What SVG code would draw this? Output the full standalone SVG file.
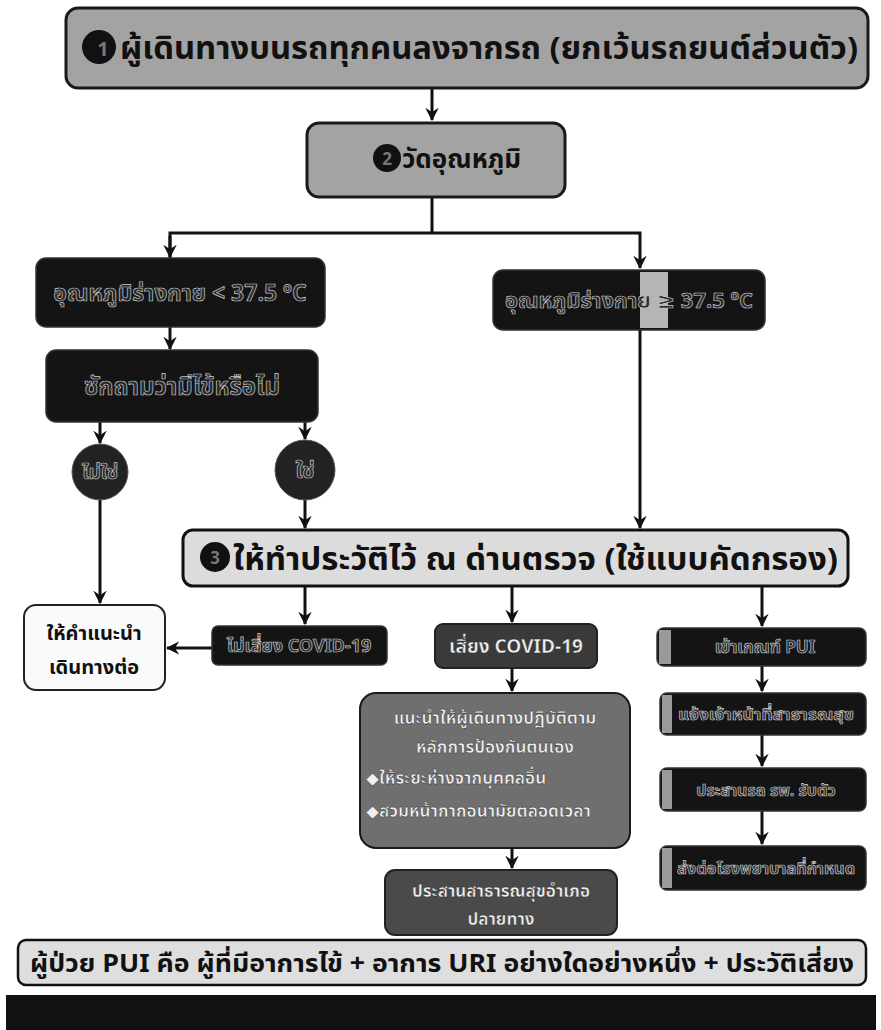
<svg xmlns="http://www.w3.org/2000/svg" width="881" height="1030" viewBox="0 0 881 1030">
<defs>
<style>
.t{font-family:"Noto Sans Thai","Noto Sans","DejaVu Sans",sans-serif;font-weight:bold;}
.gray{fill:#a3a3a3;stroke:#1a1a1a;stroke-width:3;}
.light{fill:#dcdcdc;stroke:#111;stroke-width:3;}
.dark{fill:#141414;stroke:#333;stroke-width:1.5;}
.mid{fill:#6f6f6f;stroke:#1a1a1a;stroke-width:2;}
.wt{fill:#2a2a2a;stroke:#c8c8c8;stroke-width:0.7;}
.bt{fill:#111;}
.lt{fill:#f0f0f0;stroke:#222;stroke-width:0.4;}
.c{stroke:#111;stroke-width:3;fill:none;}
</style>
<marker id="ah" viewBox="0 0 12 12" refX="11" refY="6" markerWidth="4.5" markerHeight="4.5" orient="auto" markerUnits="strokeWidth">
<path d="M0,0 L12,6 L0,12 L4,6 z" fill="#111"/>
</marker>
</defs>
<rect width="881" height="1030" fill="#ffffff"/>

<g id="connectors" class="c">
<line x1="432" y1="88" x2="432" y2="120" marker-end="url(#ah)"/>
<line x1="432" y1="197" x2="432" y2="233"/>
<polyline points="170,258 170,233 640,233 640,268" marker-end="url(#ah)"/>
<line x1="170" y1="236" x2="170" y2="257" marker-end="url(#ah)"/>
<line x1="170" y1="327" x2="170" y2="349" marker-end="url(#ah)"/>
<line x1="100" y1="422" x2="100" y2="443" marker-end="url(#ah)"/>
<line x1="305" y1="422" x2="305" y2="439" marker-end="url(#ah)"/>
<line x1="100" y1="500" x2="100" y2="603" marker-end="url(#ah)"/>
<line x1="305" y1="500" x2="305" y2="528" marker-end="url(#ah)"/>
<line x1="640" y1="330" x2="640" y2="528" marker-end="url(#ah)"/>
<line x1="305" y1="586" x2="305" y2="624" marker-end="url(#ah)"/>
<line x1="512" y1="586" x2="512" y2="622" marker-end="url(#ah)"/>
<line x1="762" y1="586" x2="762" y2="626" marker-end="url(#ah)"/>
<line x1="212" y1="648" x2="167" y2="648" marker-end="url(#ah)"/>
<line x1="512" y1="668" x2="512" y2="691" marker-end="url(#ah)"/>
<line x1="762" y1="666" x2="762" y2="691" marker-end="url(#ah)"/>
<line x1="762" y1="735" x2="762" y2="766" marker-end="url(#ah)"/>
<line x1="762" y1="811" x2="762" y2="844" marker-end="url(#ah)"/>
<line x1="512" y1="848" x2="512" y2="868" marker-end="url(#ah)"/>
</g>

<g id="n1">
<rect class="gray" x="66" y="8" width="802" height="80" rx="12"/>
<circle cx="99" cy="47" r="17" fill="#111"/>
<text class="t" x="103" y="56" font-size="20" fill="#777" text-anchor="middle">1</text>
<text class="t bt" x="120" y="59" font-size="31" textLength="738" lengthAdjust="spacingAndGlyphs">ผู้เดินทางบนรถทุกคนลงจากรถ (ยกเว้นรถยนต์ส่วนตัว)</text>
</g>

<g id="n2">
<rect class="gray" x="307" y="123" width="258" height="74" rx="12"/>
<circle cx="387" cy="158" r="14" fill="#111"/>
<text class="t" x="387" y="165" font-size="17" fill="#777" text-anchor="middle">2</text>
<text class="t bt" x="402" y="168" font-size="26">วัดอุณหภูมิ</text>
</g>

<g id="n3">
<rect class="dark" x="36" y="258" width="289" height="69" rx="10"/>
<text class="t wt" x="180" y="301" font-size="23" text-anchor="middle">อุณหภูมิร่างกาย &lt; 37.5 ºC</text>
</g>

<g id="n4">
<rect class="dark" x="493" y="270" width="272" height="60" rx="10"/>
<rect x="640" y="272" width="28" height="56" fill="#b5b5b5"/>
<text class="t wt" x="629" y="308" font-size="22" text-anchor="middle">อุณหภูมิร่างกาย ≥ 37.5 ºC</text>
</g>

<g id="n5">
<rect class="dark" x="46" y="350" width="272" height="72" rx="10"/>
<text class="t wt" x="182" y="395" font-size="24" text-anchor="middle">ซักถามว่ามีไข้หรือไม่</text>
</g>

<g id="n6">
<circle cx="100" cy="472" r="28" fill="#222" stroke="#555" stroke-width="1"/>
<text class="t wt" x="100" y="479" font-size="19" text-anchor="middle">ไม่ใช่</text>
</g>

<g id="n7">
<circle cx="305" cy="470" r="30" fill="#222" stroke="#555" stroke-width="1"/>
<text class="t wt" x="305" y="478" font-size="21" text-anchor="middle">ใช่</text>
</g>

<g id="n8">
<rect class="light" x="183" y="530" width="665" height="56" rx="10"/>
<circle cx="215" cy="557" r="15" fill="#111"/>
<text class="t" x="215" y="564" font-size="17" fill="#777" text-anchor="middle">3</text>
<text class="t bt" x="233" y="570" font-size="31" textLength="605" lengthAdjust="spacingAndGlyphs">ให้ทำประวัติไว้ ณ ด่านตรวจ (ใช้แบบคัดกรอง)</text>
</g>

<g id="n9">
<rect x="24" y="605" width="141" height="85" rx="12" fill="#fafafa" stroke="#222" stroke-width="2"/>
<text class="t bt" x="94" y="640" font-size="20" text-anchor="middle">ให้คำแนะนำ</text>
<text class="t bt" x="94" y="674" font-size="20" text-anchor="middle">เดินทางต่อ</text>
</g>

<g id="n10">
<rect class="dark" x="212" y="626" width="175" height="39" rx="6"/>
<text class="t wt" x="299" y="652" font-size="18" text-anchor="middle">ไม่เสี่ยง COVID-19</text>
</g>

<g id="n11">
<rect x="435" y="624" width="162" height="44" rx="8" fill="#3a3a3a" stroke="#222" stroke-width="2"/>
<text class="t lt" x="516" y="653" font-size="19" text-anchor="middle">เสี่ยง COVID-19</text>
</g>

<g id="n12">
<rect class="dark" x="657" y="628" width="209" height="38" rx="7"/>
<rect x="659" y="630" width="12" height="34" fill="#9a9a9a"/>
<text class="t wt" x="765" y="653" font-size="17" text-anchor="middle">เข้าเกณฑ์ PUI</text>
</g>

<g id="n13">
<rect class="mid" x="360" y="693" width="270" height="155" rx="16"/>
<text class="t lt" x="495" y="724" font-size="17" text-anchor="middle">แนะนำให้ผู้เดินทางปฏิบัติตาม</text>
<text class="t lt" x="495" y="753" font-size="17" text-anchor="middle">หลักการป้องกันตนเอง</text>
<text class="t lt" x="366" y="784" font-size="17">◆ให้ระยะห่างจากบุคคลอื่น</text>
<text class="t lt" x="366" y="817" font-size="17">◆สวมหน้ากากอนามัยตลอดเวลา</text>
</g>

<g id="n14">
<rect class="dark" x="660" y="693" width="206" height="42" rx="7"/>
<rect x="662" y="695" width="10" height="38" fill="#9a9a9a"/>
<text class="t wt" x="766" y="720" font-size="16" text-anchor="middle" textLength="176" lengthAdjust="spacingAndGlyphs">แจ้งเจ้าหน้าที่สาธารณสุข</text>
</g>

<g id="n15">
<rect class="dark" x="660" y="768" width="206" height="43" rx="7"/>
<rect x="662" y="770" width="10" height="39" fill="#9a9a9a"/>
<text class="t wt" x="766" y="796" font-size="16" text-anchor="middle">ประสานรถ รพ. รับตัว</text>
</g>

<g id="n16">
<rect class="dark" x="660" y="846" width="206" height="44" rx="7"/>
<rect x="662" y="848" width="10" height="40" fill="#9a9a9a"/>
<text class="t wt" x="766" y="874" font-size="16" text-anchor="middle" textLength="178" lengthAdjust="spacingAndGlyphs">ส่งต่อโรงพยาบาลที่กำหนด</text>
</g>

<g id="n17">
<rect x="385" y="870" width="232" height="65" rx="10" fill="#4a4a4a" stroke="#222" stroke-width="2"/>
<text class="t lt" x="501" y="897" font-size="17" text-anchor="middle">ประสานสาธารณสุขอำเภอ</text>
<text class="t lt" x="501" y="925" font-size="17" text-anchor="middle">ปลายทาง</text>
</g>

<g id="n18">
<rect x="18" y="940" width="848" height="45" rx="8" fill="#dedede" stroke="#111" stroke-width="2.5"/>
<text class="t bt" x="442" y="972" font-size="25" text-anchor="middle" textLength="824" lengthAdjust="spacingAndGlyphs">ผู้ป่วย PUI คือ ผู้ที่มีอาการไข้ + อาการ URI อย่างใดอย่างหนึ่ง + ประวัติเสี่ยง</text>
</g>

<rect x="6" y="995" width="870" height="35" fill="#111"/>
</svg>
